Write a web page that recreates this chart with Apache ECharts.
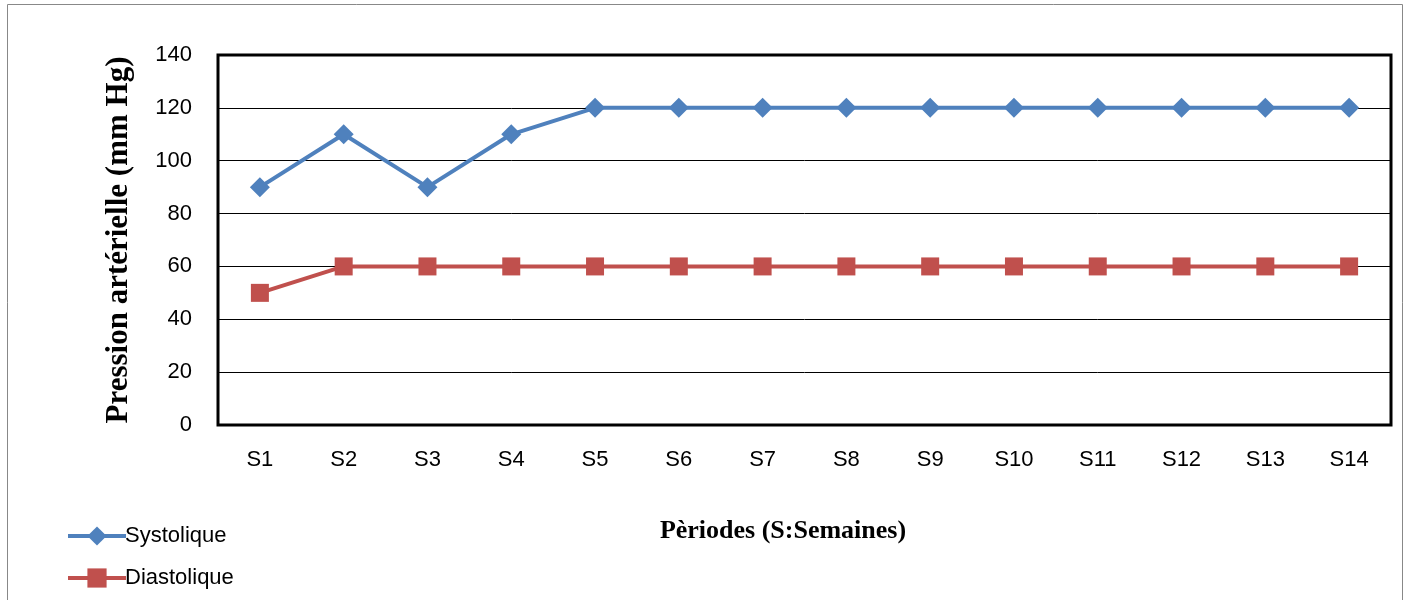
<!DOCTYPE html>
<html>
<head>
<meta charset="utf-8">
<script src="https://cdn.jsdelivr.net/npm/echarts@6/dist/echarts.min.js"></script>
<style>
  html, body { margin: 0; padding: 0; background: #fff; }
  #chart { width: 1410px; height: 600px; }
</style>
</head>
<body>
<div id="chart"></div>
<script>
// Weekly blood pressure readings
const periods = ['S1','S2','S3','S4','S5','S6','S7','S8','S9','S10','S11','S12','S13','S14'];
const systolique = [90, 110, 90, 110, 120, 120, 120, 120, 120, 120, 120, 120, 120, 120];
const diastolique = [50, 60, 60, 60, 60, 60, 60, 60, 60, 60, 60, 60, 60, 60];
const yTicks = [0, 20, 40, 60, 80, 100, 120, 140];

const chart = echarts.init(document.getElementById('chart'));
const labelFont = '"Liberation Sans", Arial, sans-serif';
const titleFont = '"Liberation Serif", "Times New Roman", serif';

chart.setOption({
  animation: false,
  grid: {
    left: 218, right: 19, top: 55, bottom: 175,
    show: true, borderColor: '#000', borderWidth: 3, backgroundColor: '#fff'
  },
  graphic: [
    { type: 'rect', shape: { x: 7.5, y: 4.5, width: 1395, height: 620 },
      style: { fill: 'none', stroke: '#888', lineWidth: 1 }, silent: true, z: -1 },
    { type: 'text', x: 783, y: 531,
      style: { text: 'Pèriodes (S:Semaines)', font: 'bold 26px ' + titleFont, fill: '#000',
               align: 'center', verticalAlign: 'middle' } }
  ],
  legend: {
    orient: 'vertical', left: 61, top: 520, itemGap: 20,
    itemWidth: 58, itemHeight: 24,
    lineStyle: { width: 4 },
    textStyle: { fontFamily: labelFont, fontSize: 22, color: '#000', padding: [0, 0, 0, -6] },
    data: ['Systolique', 'Diastolique']
  },
  xAxis: {
    type: 'category', data: periods, boundaryGap: true,
    axisLine: { show: true, lineStyle: { color: '#000', width: 2 } },
    axisTick: { show: false },
    axisLabel: { fontFamily: labelFont, fontSize: 22, color: '#000', margin: 24 }
  },
  yAxis: {
    type: 'value', min: yTicks[0], max: yTicks[yTicks.length - 1], interval: 20,
    name: 'Pression artérielle (mm Hg)', nameLocation: 'middle', nameGap: 84,
    nameTextStyle: { fontFamily: titleFont, fontWeight: 'bold', fontSize: 31, color: '#000' },
    axisLine: { show: true, lineStyle: { color: '#000', width: 2 } },
    axisTick: { show: false },
    splitLine: { show: true, lineStyle: { color: '#000', width: 1 } },
    axisLabel: { fontFamily: labelFont, fontSize: 22, color: '#000', margin: 26 }
  },
  series: [
    {
      name: 'Systolique', type: 'line', data: systolique,
      symbol: 'diamond', symbolSize: 20,
      lineStyle: { color: '#4F81BD', width: 4 },
      itemStyle: { color: '#4F81BD' }
    },
    {
      name: 'Diastolique', type: 'line', data: diastolique,
      symbol: 'rect', symbolSize: 18,
      lineStyle: { color: '#C0504D', width: 4 },
      itemStyle: { color: '#C0504D' }
    }
  ]
});
</script>
</body>
</html>
